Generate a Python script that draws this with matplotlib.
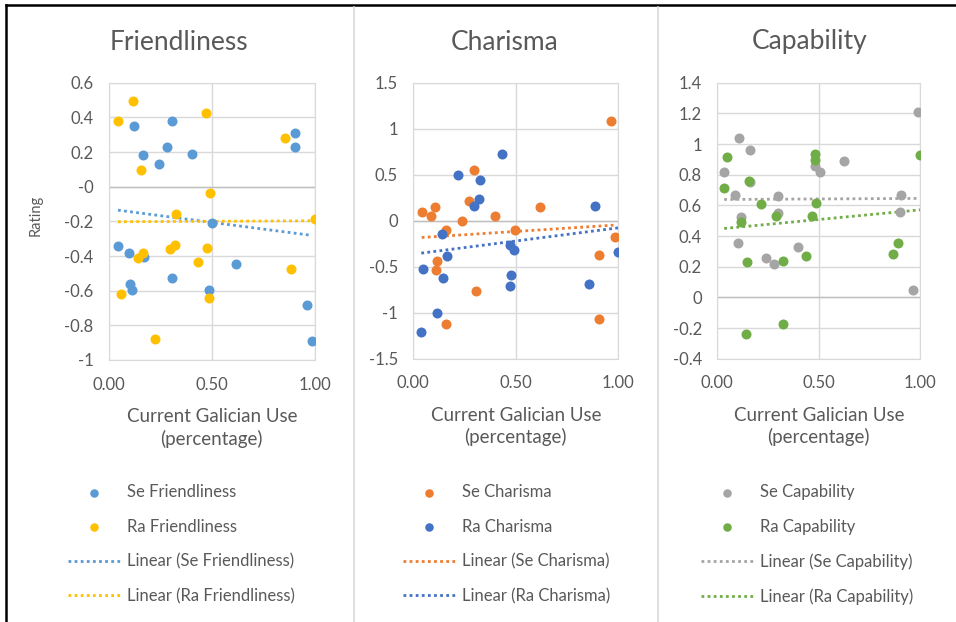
import numpy as np
import matplotlib.pyplot as plt
from matplotlib.lines import Line2D

plt.rcParams['font.family'] = ['Lato', 'DejaVu Sans']
plt.rcParams['axes.unicode_minus'] = False

# friendliness ratings vs. galician use
se_friend_x = [0.123, 0.166, 0.246, 0.283, 0.307, 0.404, 0.903, 0.903, 0.499, 0.045,
               0.099, 0.170, 0.105, 0.115, 0.307, 0.486, 0.619, 0.960, 0.984]
se_friend_y = [0.352, 0.183, 0.129, 0.227, 0.379, 0.190, 0.308, 0.227, -0.210, -0.340,
               -0.385, -0.404, -0.560, -0.596, -0.525, -0.594, -0.446, -0.685, -0.888]
ra_friend_x = [0.045, 0.120, 0.470, 0.856, 0.157, 0.493, 0.328, 1.000, 0.141, 0.166,
               0.297, 0.321, 0.477, 0.431, 0.060, 0.485, 0.885, 0.226]
ra_friend_y = [0.379, 0.494, 0.423, 0.283, 0.096, -0.038, -0.158, -0.188, -0.410, -0.385,
               -0.358, -0.338, -0.356, -0.437, -0.621, -0.640, -0.473, -0.879]

# charisma
se_char_x = [0.041, 0.086, 0.104, 0.161, 0.115, 0.111, 0.161, 0.237, 0.273, 0.298,
             0.304, 0.400, 0.498, 0.618, 0.964, 0.985, 0.904, 0.904]
se_char_y = [0.094, 0.047, 0.149, -0.101, -0.435, -0.540, -1.123, -0.007, 0.214, 0.547,
             -0.768, 0.047, -0.101, 0.149, 1.083, -0.181, -0.370, -1.069]
ra_char_x = [0.039, 0.049, 0.117, 0.140, 0.146, 0.164, 0.220, 0.298, 0.320, 0.327,
             0.433, 0.473, 0.489, 0.476, 0.470, 0.888, 0.857, 1.000]
ra_char_y = [-1.207, -0.522, -1.004, -0.145, -0.623, -0.388, 0.496, 0.163, 0.232, 0.446,
             0.728, -0.264, -0.322, -0.587, -0.707, 0.163, -0.688, -0.341]

# capability
se_cap_x = [0.034, 0.108, 0.163, 0.089, 0.115, 0.102, 0.161, 0.240, 0.278, 0.297,
            0.297, 0.396, 0.479, 0.504, 0.622, 0.903, 0.900, 0.987, 0.964]
se_cap_y = [0.820, 1.039, 0.959, 0.670, 0.522, 0.357, 0.750, 0.257, 0.217, 0.659,
            0.548, 0.328, 0.857, 0.820, 0.891, 0.670, 0.559, 1.211, 0.048]
ra_cap_x = [0.034, 0.049, 0.117, 0.154, 0.146, 0.215, 0.291, 0.322, 0.435, 0.465,
            0.481, 0.481, 0.488, 0.141, 0.322, 0.867, 0.888, 1.000]
ra_cap_y = [0.711, 0.917, 0.489, 0.759, 0.230, 0.607, 0.530, 0.239, 0.267, 0.530,
            0.933, 0.896, 0.617, -0.241, -0.172, 0.280, 0.357, 0.928]

titles = ['Friendliness', 'Charisma', 'Capability']
series_names = [('Se Friendliness', 'Ra Friendliness'),
                ('Se Charisma', 'Ra Charisma'),
                ('Se Capability', 'Ra Capability')]
x_data = [(se_friend_x, ra_friend_x), (se_char_x, ra_char_x), (se_cap_x, ra_cap_x)]
y_data = [(se_friend_y, ra_friend_y), (se_char_y, ra_char_y), (se_cap_y, ra_cap_y)]
colors = [('#5B9BD5', '#FFC000'), ('#ED7D31', '#4472C4'), ('#A5A5A5', '#70AD47')]
y_ranges = [(-1, 0.6, 0.2), (-1.5, 1.5, 0.5), (-0.4, 1.4, 0.2)]
x_ticks = [0, 0.5, 1]

grey_text = '#595959'
grid_col = '#D9D9D9'

W, H = 956, 622
fig = plt.figure(figsize=(W / 100, H / 100), dpi=100)

# pixel boxes of plot areas: left, right, top, bottom
boxes = [(108.7, 315.0, 82.7, 360.0), (413.3, 618.3, 82.7, 358.7), (717.3, 920.3, 82.7, 358.7)]
title_x = [179, 505, 810]
legend_x = [68, 403, 701]

for i in range(3):
    l, r, t, b = boxes[i]
    ax = fig.add_axes([l / W, 1 - b / H, (r - l) / W, (b - t) / H])
    lo, hi, step = y_ranges[i]
    yt = np.round(np.arange(lo, hi + step / 2, step), 2)

    handles = []
    for j in range(2):
        xs = np.array(x_data[i][j])
        ys = np.array(y_data[i][j])
        sc = ax.scatter(xs, ys, s=52, color=colors[i][j], zorder=3, linewidths=0,
                        label=series_names[i][j])
        handles.append(sc)

    # linear trendlines
    for j in range(2):
        xs = np.array(x_data[i][j])
        ys = np.array(y_data[i][j])
        k, c = np.polyfit(xs, ys, 1)
        xx = np.array([xs.min(), xs.max()])
        ln, = ax.plot(xx, k * xx + c, color=colors[i][j], lw=2, ls=(0, (1, 1.2)),
                      dash_capstyle='butt', zorder=2,
                      label=f'Linear ({series_names[i][j]})')
        handles.append(ln)

    ax.set_xlim(0, 1)
    ax.set_ylim(lo, hi)
    ax.set_yticks(yt)
    ax.set_yticklabels([f'{v:g}' for v in yt])
    ax.set_xticks(x_ticks)
    ax.set_xticklabels([f'{v:.2f}' for v in x_ticks])
    ax.grid(True, color=grid_col, lw=1)
    ax.set_axisbelow(True)
    ax.axhline(0, color='#BFBFBF', lw=1, zorder=1)
    for s in ax.spines.values():
        s.set_color(grid_col)
    ax.tick_params(length=0, labelsize=12, labelcolor=grey_text, pad=11)
    ax.tick_params(axis='x', pad=12)
    ax.set_xlabel('Current Galician Use\n(percentage)', fontsize=13.5, color=grey_text,
                  labelpad=11, linespacing=1.3)
    if i == 0:
        ax.set_ylabel('Rating', fontsize=10.5, color=grey_text)
        ax.yaxis.set_label_coords(-0.318, 0.523)

    fig.text(title_x[i] / W, 1 - 42 / H, titles[i], fontsize=19, color=grey_text,
             ha='center', va='center')

    fig.legend(handles=handles, loc='upper left',
               bbox_to_anchor=(legend_x[i] / W, 1 - 484 / H),
               frameon=False, borderpad=0, borderaxespad=0, fontsize=12,
               handlelength=3.1, handletextpad=0.42, labelspacing=1.12,
               scatterpoints=1, markerscale=0.85, labelcolor=grey_text)

# outer frame (top and left edges) and panel separators
fig.add_artist(Line2D([6 / W, 1], [1 - 5 / H, 1 - 5 / H], color='black', lw=1.8))
fig.add_artist(Line2D([6 / W, 6 / W], [0, 1 - 5 / H], color='black', lw=1.8))
for sx in (354.3, 658):
    fig.add_artist(Line2D([sx / W, sx / W], [0, 1 - 7 / H], color=grid_col, lw=1.2))

fig.savefig('out.png', dpi=100)
